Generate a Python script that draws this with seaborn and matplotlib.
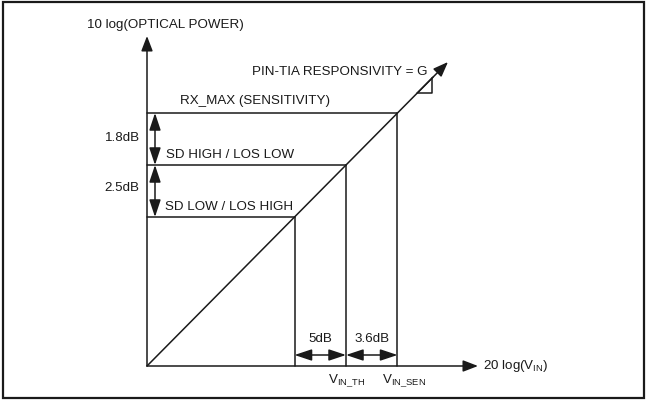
import matplotlib
matplotlib.use("Agg")
import matplotlib.pyplot as plt
import seaborn as sns
import numpy as np
from matplotlib.patches import Rectangle

sns.set_theme(style="white")
FONT = ['Liberation Sans Narrow', 'Liberation Sans', 'DejaVu Sans']
plt.rcParams['font.family'] = FONT
plt.rcParams['mathtext.fontset'] = 'custom'
plt.rcParams['mathtext.rm'] = 'Liberation Sans'

# ---- data (diagram units, origin at axes crossing) ----
slope_G = 1.01                      # PIN-TIA responsivity (line slope)
level_names = ["SD LOW / LOS HIGH", "SD HIGH / LOS LOW", "RX_MAX (SENSITIVITY)"]
level_values = [149, 201, 253]      # 10 log(optical power) levels
gap_labels_y = ["2.5dB", "1.8dB"]
gap_labels_x = ["5dB", "3.6dB"]
vin_labels = [r"V$_{\mathrm{IN\_TH}}$", r"V$_{\mathrm{IN\_SEN}}$"]
line_x = [0, 301]

ink = "#1a1a1a"
fs = 9.6
LW = 1.1
one = "-|>,head_length=0.65,head_width=0.25"
two = "<|-|>,head_length=0.75,head_width=0.25"

fig = plt.figure(figsize=(6.47, 4.00), dpi=100)
ax = fig.add_axes([0, 0, 1, 1])
ax.set_xlim(-147, 500)
ax.set_ylim(-34, 366)
ax.axis("off")

# outer frame
fig.patches.append(Rectangle((0.004, 0.005), 0.992, 0.99, transform=fig.transFigure,
                             fill=False, lw=1.6, ec=ink))

def arrow(p_from, p_to, style):
    ax.annotate("", xy=p_to, xytext=p_from,
                arrowprops=dict(arrowstyle=style, mutation_scale=14, lw=LW, color=ink,
                                shrinkA=0, shrinkB=0))

# axes arrows
arrow((0, 0), (0, 330), one)
arrow((0, 0), (331, 0), one)

# responsivity line
lx = np.array(line_x, dtype=float)
sns.lineplot(x=[lx[0], lx[1] * 0.95], y=[0, lx[1] * 0.95 * slope_G],
             ax=ax, color=ink, lw=LW, estimator=None, sort=False)
arrow((lx[1] * 0.9, lx[1] * 0.9 * slope_G), (lx[1], lx[1] * slope_G), one)
# slope marker
tx0, tx1 = 270, 285
ax.plot([tx0, tx1, tx1], [tx0 * slope_G, tx0 * slope_G, tx1 * slope_G], color=ink, lw=LW)

# level lines
xs = [v / slope_G for v in level_values]
for v, x in zip(level_values, xs):
    ax.plot([0, x], [v, v], color=ink, lw=LW)
    ax.plot([x, x], [v, 0], color=ink, lw=LW)

# vertical gap arrows
for (a, b) in [(level_values[2], level_values[1]), (level_values[1], level_values[0])]:
    arrow((8, a), (8, b), two)
# horizontal gap arrows
for (a, b) in [(xs[0], xs[1]), (xs[1], xs[2])]:
    arrow((a, 11), (b, 11), two)

# texts
kw = dict(fontsize=fs, color=ink, va="center")
ax.text(18, 341, "10 log(OPTICAL POWER)", ha="center", **kw)
ax.text(280, 294, "PIN-TIA RESPONSIVITY = G", ha="right", **kw)
ax.text(33, 265, level_names[2], ha="left", **kw)
ax.text(19, 211, level_names[1], ha="left", **kw)
ax.text(18, 159, level_names[0], ha="left", **kw)
ax.text(-7, 228, gap_labels_y[1], ha="right", **kw)
ax.text(-8, 178, gap_labels_y[0], ha="right", **kw)
ax.text((xs[0] + xs[1]) / 2, 27, gap_labels_x[0], ha="center", **kw)
ax.text((xs[1] + xs[2]) / 2, 27, gap_labels_x[1], ha="center", **kw)
ax.text(336, 0, r"20 log(V$_{\mathrm{IN}}$)", ha="left", **kw)
ax.text(181, -15, vin_labels[0], ha="left", **kw)
ax.text(235, -15, vin_labels[1], ha="left", **kw)

fig.savefig("out.png", dpi=100)
